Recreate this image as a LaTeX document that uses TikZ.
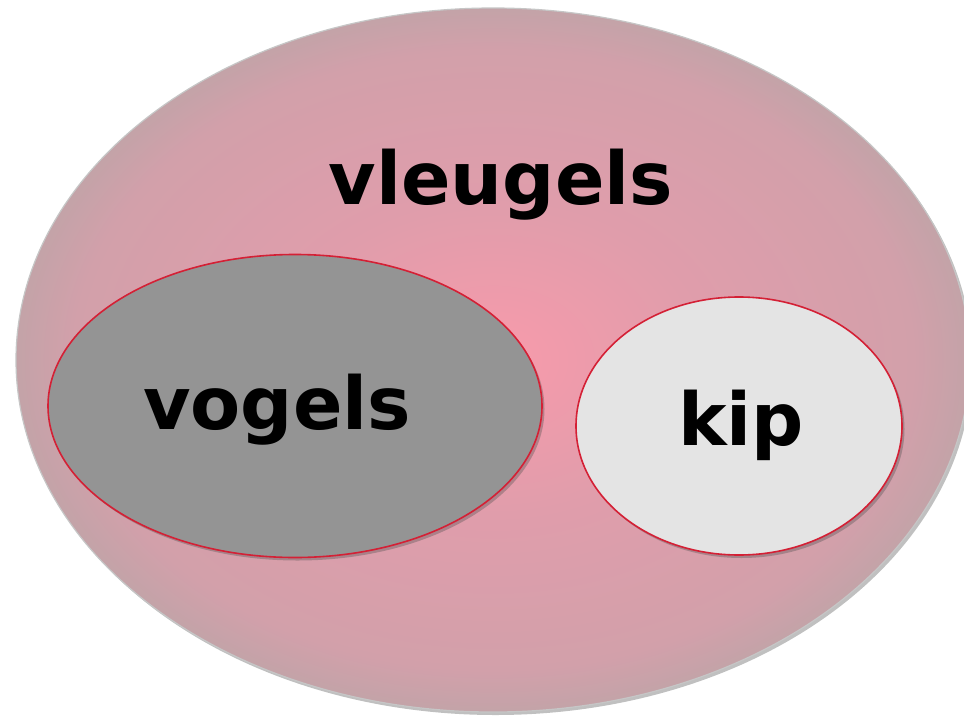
\documentclass[tikz,border=0pt]{standalone}
\usepackage{fontspec}
\setmainfont{DejaVu Sans}
\usetikzlibrary{shapes.geometric,shadows}
\definecolor{setred}{RGB}{212,32,53}
\definecolor{birdgray}{RGB}{148,148,148}
\definecolor{kipgray}{RGB}{228,228,228}
\pgfdeclareradialshading{wingshade}{\pgfpoint{0bp}{0bp}}{%
  rgb(0bp)=(0.973,0.604,0.671);
  rgb(11bp)=(0.878,0.616,0.671);
  rgb(22bp)=(0.824,0.627,0.667);
  rgb(25bp)=(0.765,0.639,0.659);
  rgb(50bp)=(0.765,0.639,0.659)}
\tikzset{
  setshadow/.style={drop shadow={shadow xshift=2.5pt,shadow yshift=-3pt,opacity=0.35,fill=black!70}},
  bigset/.style={ellipse,draw=gray!45,line width=1.2pt,shading=wingshade,setshadow},
  subset/.style={ellipse,draw=setred,line width=1.6pt,setshadow},
  lbl/.style={font=\bfseries\fontsize{73}{80}\selectfont,inner sep=0pt,anchor=base,text=black}
}
\begin{document}
\begin{tikzpicture}[x=1pt,y=-1pt]
\useasboundingbox (0,0) rectangle (964,715);
\clip (0,0) rectangle (964,715);
\fill[white] (0,0) rectangle (964,715);
\node[bigset,minimum width=954pt,minimum height=704pt] (wings) at (493,360) {};
\node[subset,fill=birdgray,minimum width=494pt,minimum height=303pt] (birds) at (295,406) {};
\node[subset,fill=kipgray,minimum width=326pt,minimum height=258pt] (kip) at (739,426) {};
\node[lbl] (wingslbl) at (501,204) {vleugels};
\node[lbl] (birdslbl) at (277,429) {vogels};
\node[lbl] (kiplbl) at (741,445) {kip};
\end{tikzpicture}
\end{document}
